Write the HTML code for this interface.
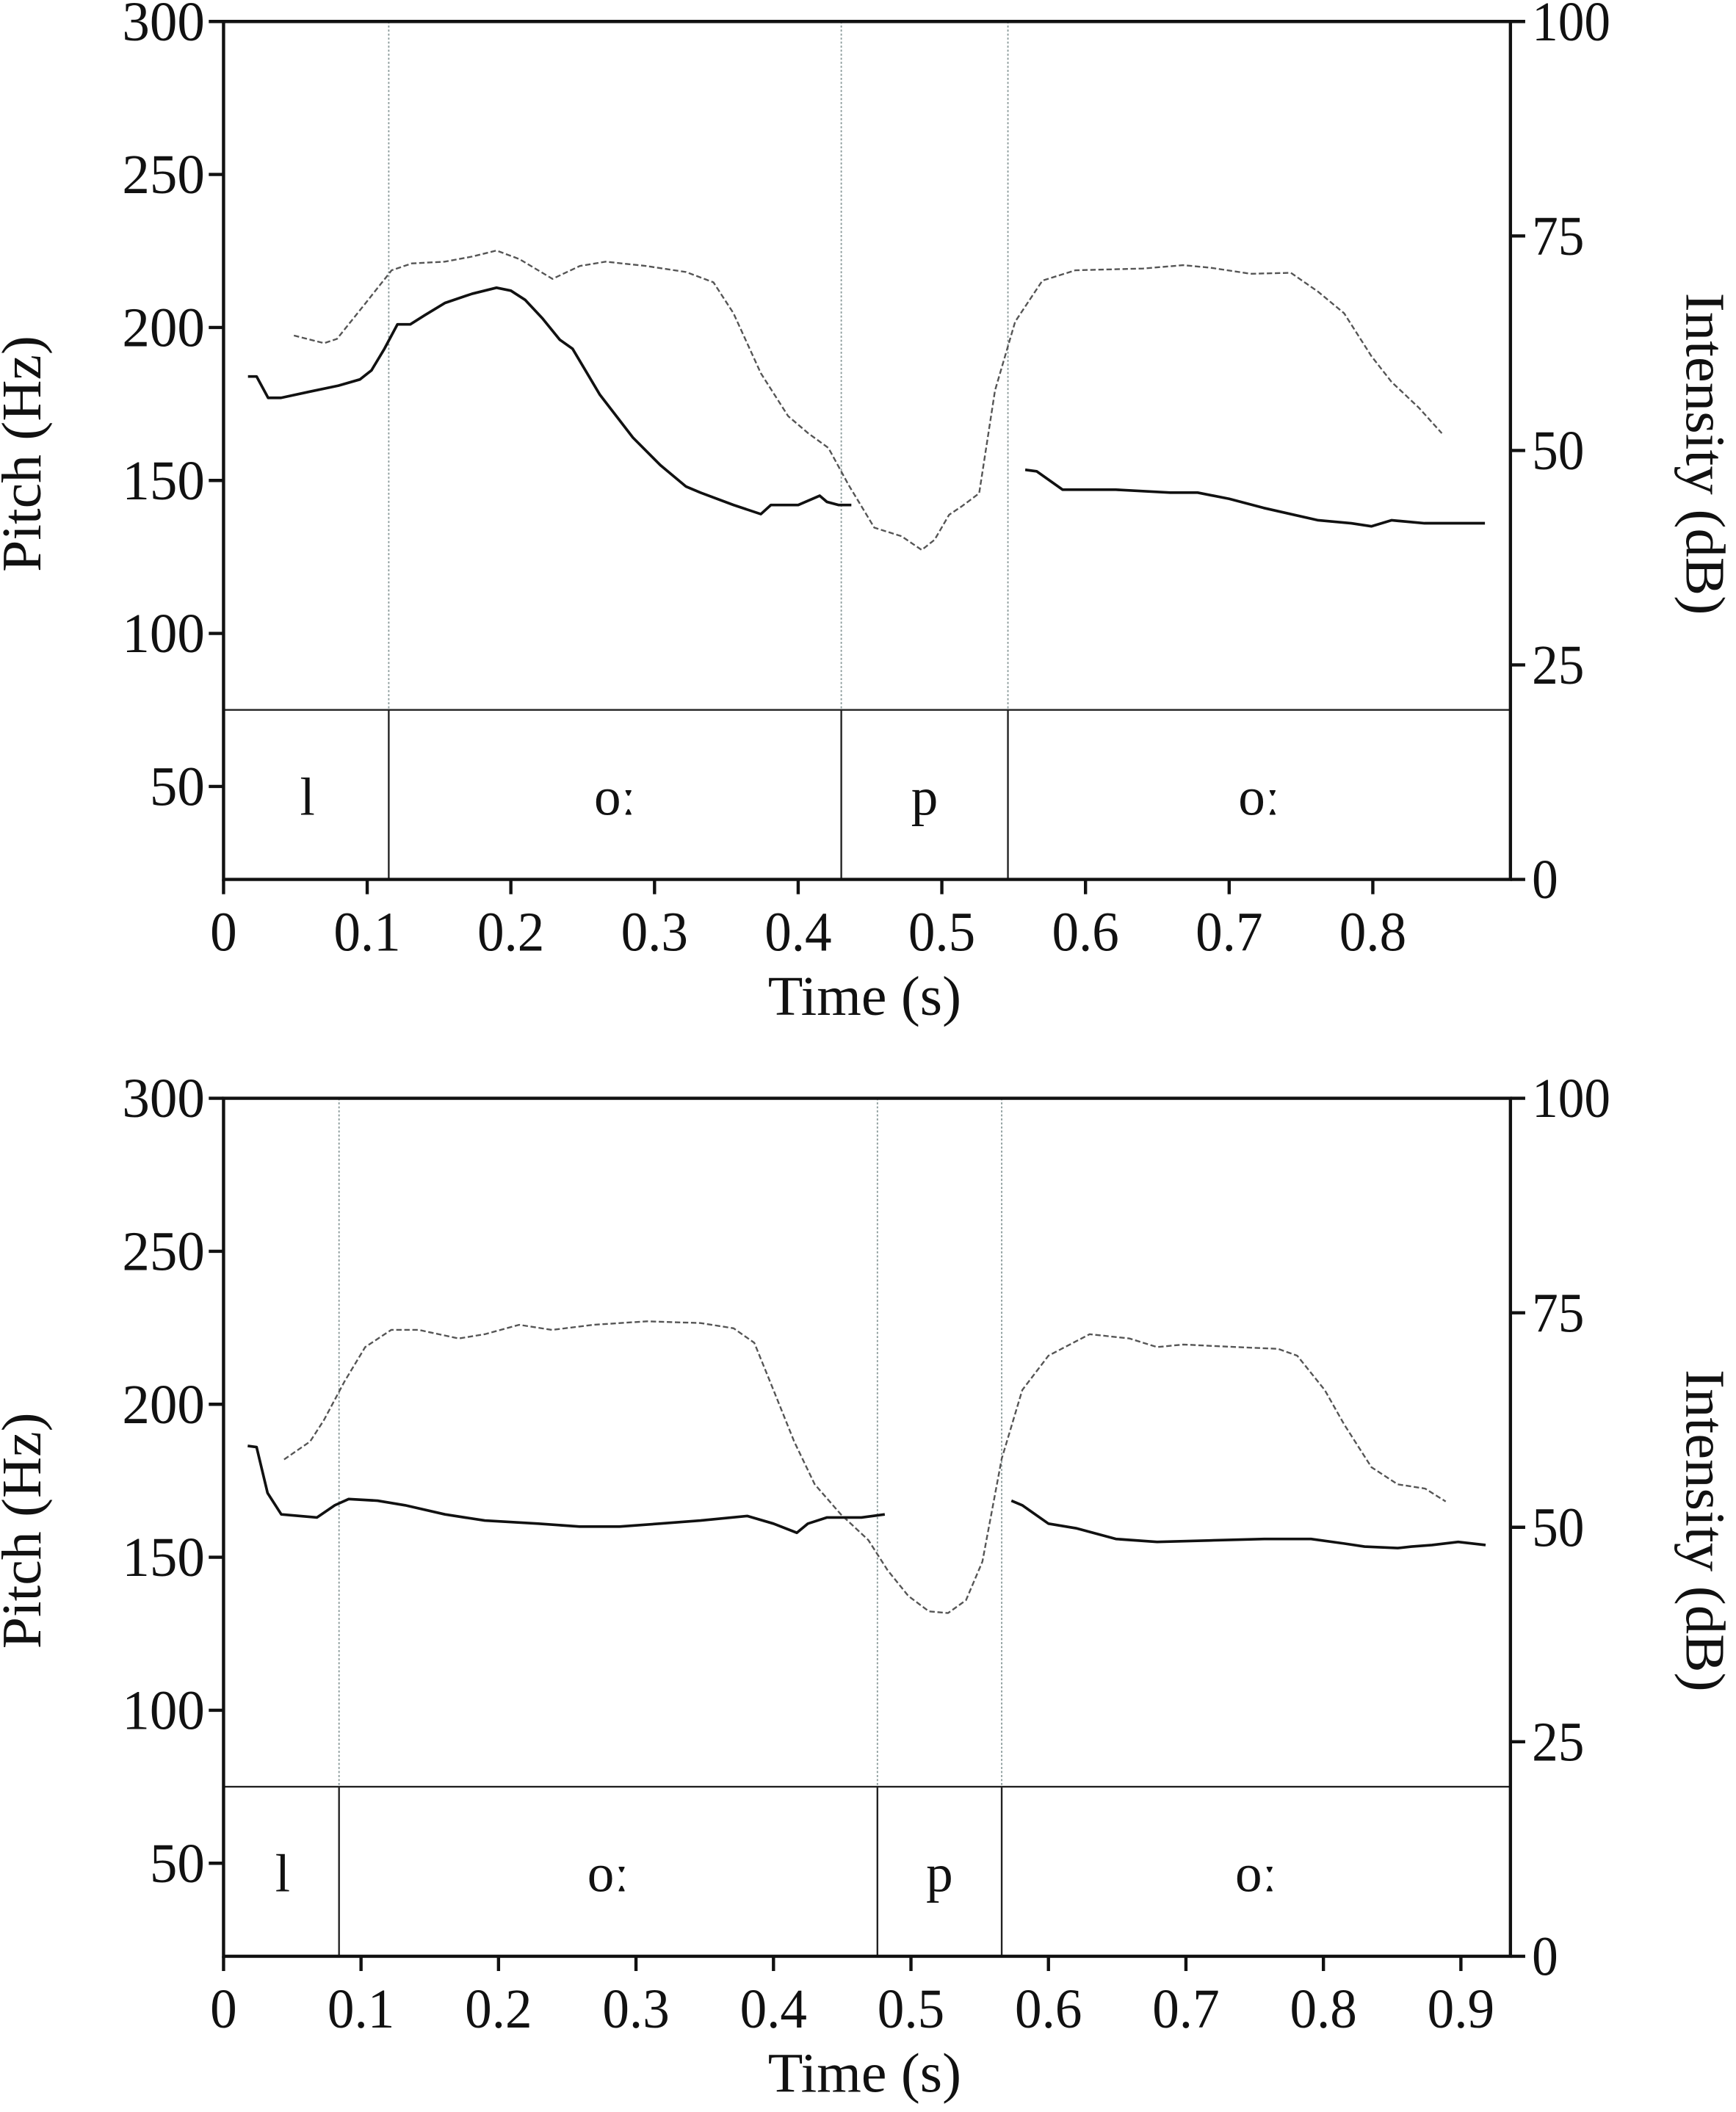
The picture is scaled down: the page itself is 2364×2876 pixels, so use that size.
<!DOCTYPE html>
<html><head><meta charset="utf-8"><style>
html,body{margin:0;padding:0;background:#fff;}
svg{display:block;}
text{font-family:"Liberation Serif",serif;fill:#111;}
</style></head><body>
<svg id="fig" width="2364" height="2876" viewBox="0 0 1293 1573" preserveAspectRatio="none" xmlns="http://www.w3.org/2000/svg"></svg>
<script>
// ---- Panel 1 data ----
const p1PitchT1 = [0.017,0.023,0.031,0.040,0.060,0.080,0.095,0.103,0.112,0.121,0.130,0.140,0.154,0.173,0.190,0.200,0.210,0.222,0.234,0.243,0.262,0.285,0.304,0.322,0.332,0.355,0.374,0.381,0.400,0.415,0.420,0.428,0.437];
const p1PitchHz1 = [184,184,177,177,179,181,183,186,193,201,201,204,208,211,213,212,209,203,196,193,178,164,155,148,146,142,139,142,142,145,143,142,142];
const p1PitchT2 = [0.558,0.566,0.584,0.621,0.659,0.678,0.700,0.724,0.762,0.785,0.799,0.813,0.836,0.878];
const p1PitchHz2 = [153.5,153,147,147,146,146,144,141,137,136,135,137,136,136];
const p1IntT = [0.049,0.070,0.079,0.098,0.117,0.131,0.154,0.173,0.190,0.206,0.229,0.248,0.266,0.294,0.322,0.341,0.355,0.374,0.393,0.407,0.421,0.435,0.453,0.472,0.486,0.495,0.505,0.514,0.526,0.537,0.551,0.570,0.593,0.640,0.668,0.687,0.715,0.743,0.762,0.780,0.799,0.813,0.832,0.848];
const p1IntDb = [63.4,62.5,63,67,71,71.8,72,72.6,73.3,72.3,70,71.5,72,71.5,70.8,69.6,66,59,54,52,50.3,46,41,40,38.4,39.6,42.5,43.5,45,57,65,69.8,71,71.2,71.6,71.3,70.6,70.7,68.5,66,61,58,55,52];
const p1Bounds = [0.115,0.430,0.546];
const p1Phones = ["l","oː","p","oː"];
const p1XTicks = [0,0.1,0.2,0.3,0.4,0.5,0.6,0.7,0.8];
// ---- Panel 2 data ----
const p2PitchT1 = [0.0176,0.024,0.032,0.042,0.068,0.081,0.091,0.112,0.132,0.161,0.190,0.229,0.259,0.288,0.317,0.347,0.381,0.400,0.417,0.425,0.439,0.464,0.481];
const p2PitchHz1 = [186.4,186,171,164,163,167,169,168.5,167,164,162,161,160,160,161,162,163.5,161,158,161,163,163,164];
const p2PitchT2 = [0.573,0.581,0.600,0.620,0.649,0.679,0.718,0.757,0.791,0.815,0.830,0.854,0.864,0.879,0.898,0.918];
const p2PitchHz2 = [168.5,167,161,159.5,156,155,155.5,156,156,154.5,153.5,153,153.5,154,155,154];
const p2IntT = [0.044,0.063,0.073,0.088,0.103,0.122,0.142,0.171,0.190,0.215,0.239,0.269,0.308,0.347,0.371,0.386,0.400,0.415,0.430,0.449,0.469,0.483,0.498,0.513,0.527,0.540,0.552,0.566,0.581,0.600,0.630,0.659,0.679,0.698,0.737,0.767,0.781,0.801,0.815,0.835,0.854,0.874,0.889];
const p2IntDb = [57.9,60,62.5,67,71,73,73,72,72.5,73.6,73,73.6,74,73.8,73.2,71.5,66,60,55,51.5,48.5,45,42,40.2,40,41.5,46,58,66,70,72.5,72,71,71.3,71,70.8,70,66,62,57,55,54.5,53];
const p2Bounds = [0.084,0.4756,0.566];
const p2Phones = ["l","oː","p","oː"];
const p2XTicks = [0,0.1,0.2,0.3,0.4,0.5,0.6,0.7,0.8,0.9];
const pitchTicks = [50,100,150,200,250,300];
const intTicks = [0,25,50,75,100];

const NS = "http://www.w3.org/2000/svg";
const svg = document.getElementById("fig");
function mk(tag, attrs, parent){ const e=document.createElementNS(NS,tag); for(const k in attrs) e.setAttribute(k,attrs[k]); (parent||svg).appendChild(e); return e; }

function panel(cfg){
  const L=166.5, R=1125, top=cfg.top, bot=cfg.top+639;
  const g = mk("g",{});
  
  
  const hzPx = (bot-top)/ (300-19.6);
  const x = t => L + t*cfg.pxPerSec;
  const yHz = h => top + (300-h)*hzPx;
  const yDb = d => bot - d*(bot-top)/100;
  const tierY = yHz(75);
  cfg.bounds.forEach((b,i)=>{
    const d = mk("line",{x1:x(b),x2:x(b),y1:top,y2:tierY,stroke:"#8a9a9a","stroke-width":1,"stroke-dasharray":"1.5,1.5"},g);
    
    
    const s = mk("line",{x1:x(b),x2:x(b),y1:tierY,y2:bot,stroke:"#222","stroke-width":1.3},g);
    
    
  });
  const tl = mk("line",{x1:L,x2:R,y1:tierY,y2:tierY,stroke:"#222","stroke-width":1.3},g);
  
  
  const edges=[0].concat(cfg.bounds).concat([(R-L)/cfg.pxPerSec]);
  cfg.phones.forEach((p,i)=>{
    const cx=(x(edges[i])+x(edges[i+1]))/2 + (i===0?1:0);
    const t=mk("text",{x:cx,y:tierY+78,"font-size":40,"text-anchor":"middle"},g);
    t.textContent=p;
    
    
  });
  const ip = cfg.intT.map((t,i)=>x(t).toFixed(1)+","+yDb(cfg.intDb[i]).toFixed(1)).join(" ");
  const il = mk("polyline",{points:ip,fill:"none",stroke:"#555","stroke-width":1.3,"stroke-dasharray":"4,2"},g);
  
  
  [[cfg.pT1,cfg.pH1],[cfg.pT2,cfg.pH2]].forEach((s,k)=>{
    const pts=s[0].map((t,i)=>x(t).toFixed(1)+","+yHz(s[1][i]).toFixed(1)).join(" ");
    const pl=mk("polyline",{points:pts,fill:"none",stroke:"#111","stroke-width":2,"stroke-linejoin":"round"},g);
    
    
  });
  const fr = mk("path",{d:`M${L},${bot} L${L},${top} L${R},${top} L${R},${bot} Z`,fill:"none",stroke:"#111","stroke-width":2.4},g);
  
  
  pitchTicks.forEach(v=>{
    const y=yHz(v);
    const tk=mk("line",{x1:L-11,x2:L,y1:y,y2:y,stroke:"#111","stroke-width":2.4},g);
    
    
    const s=String(v);
    const t=mk("text",{x:L-14,y:y+14,"font-size":42,"text-anchor":"end",textLength:s.length*20.5,lengthAdjust:"spacingAndGlyphs"},g);
    t.textContent=s;
    
    
  });
  intTicks.forEach(v=>{
    const y=yDb(v);
    const tk=mk("line",{x1:R,x2:R+11,y1:y,y2:y,stroke:"#111","stroke-width":2.4},g);
    
    
    const s=String(v);
    const t=mk("text",{x:R+16,y:y+14,"font-size":42,textLength:s.length*19.5,lengthAdjust:"spacingAndGlyphs"},g);
    t.textContent=s;
    
    
  });
  cfg.xticks.forEach(v=>{
    const xx=x(v);
    const tk=mk("line",{x1:xx,x2:xx,y1:bot,y2:bot+11,stroke:"#111","stroke-width":2.4},g);
    
    
    const s=String(v);
    const t=mk("text",{x:xx,y:bot+53,"font-size":42,"text-anchor":"middle",textLength:(s.length===1?20:50),lengthAdjust:"spacingAndGlyphs"},g);
    t.textContent=s;
    
    
  });
  const xt=mk("text",{x:644,y:bot+101,"font-size":42,"text-anchor":"middle",textLength:144,lengthAdjust:"spacingAndGlyphs"},g);
  xt.textContent="Time (s)";
  
  
  const cy=top+322;
  const yt=mk("text",{x:0,y:0,"font-size":42,"text-anchor":"middle",textLength:176,lengthAdjust:"spacingAndGlyphs",transform:`translate(30,${cy}) rotate(-90)`},g);
  yt.textContent="Pitch (Hz)";
  
  
  const yt2=mk("text",{x:0,y:0,"font-size":42,"text-anchor":"middle",textLength:240,lengthAdjust:"spacingAndGlyphs",transform:`translate(1256,${cy}) rotate(90)`},g);
  yt2.textContent="Intensity (dB)";
  
  
}
panel({name:"panel-top",top:16,pxPerSec:1070,pT1:p1PitchT1,pH1:p1PitchHz1,pT2:p1PitchT2,pH2:p1PitchHz2,intT:p1IntT,intDb:p1IntDb,bounds:p1Bounds,phones:p1Phones,xticks:p1XTicks});
panel({name:"panel-bottom",top:818,pxPerSec:1024,pT1:p2PitchT1,pH1:p2PitchHz1,pT2:p2PitchT2,pH2:p2PitchHz2,intT:p2IntT,intDb:p2IntDb,bounds:p2Bounds,phones:p2Phones,xticks:p2XTicks});
</script>
</body></html>
